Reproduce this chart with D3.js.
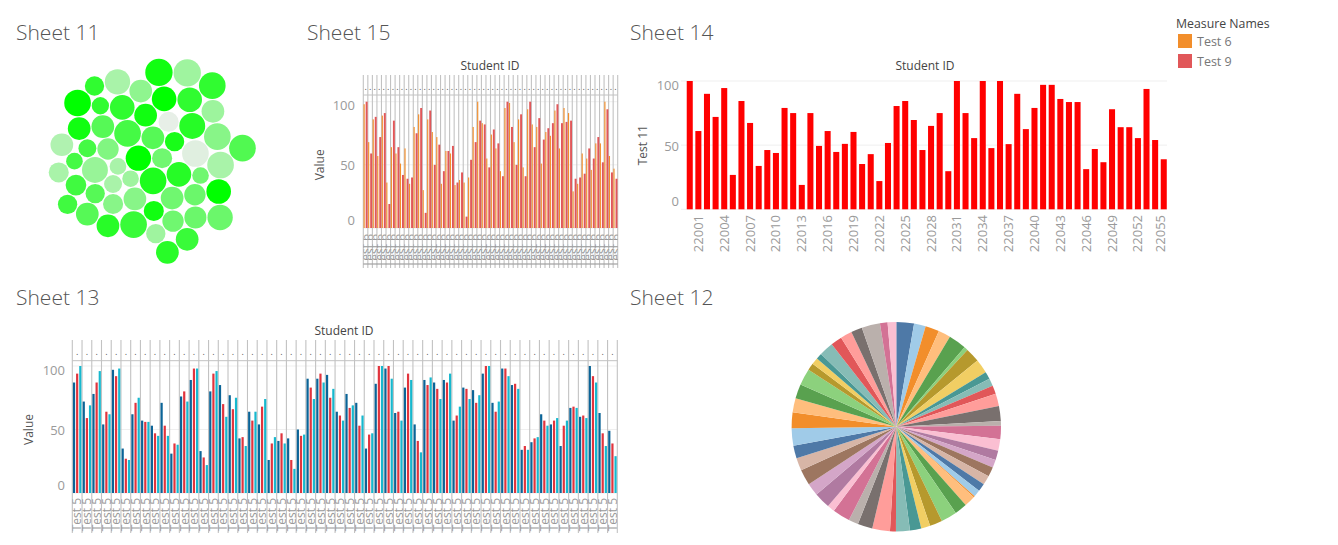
<!DOCTYPE html>
<html><head><meta charset="utf-8">
<script src="https://cdn.jsdelivr.net/npm/d3@7/dist/d3.min.js"></script>
<style>
html,body{margin:0;padding:0;background:#fff;overflow:hidden}
svg{display:block;font-family:"Open Sans",sans-serif}
</style></head><body><svg id="c" width="1338" height="545"></svg>
<script>
const studentIds = d3.range(22001, 22057);
const test11 = [100,61,90,72,94.5,26.8,84.4,67.3,33.8,46.2,43.9,79,75,19,75,49.4,61,44.7,51,60.3,35.3,43,22,51.7,80.5,84.4,69.6,46.2,65,75,29.7,100,75,55.5,100,47.7,100,50.8,90,62.5,79,97,97,86,83.6,83.6,31.3,47,36.7,78,64,64,55.5,93.8,54,39];
const test6 = [98,68,86,57,89,36,64,59,51,63,35,80,90,30,86,76,72,35,61,59,34,38,36,40,80,100,83,55,74,63,45,95,99,68,86,48,94,82,80,51,76,73,93,63,95,91,29,35,59,55,46,67,67,100,57,47];
const test9 = [100,59,88,72,91,19,85,64,42,39,40,75,95,12,93,50,66,45,61,65,36,44,9,54,68,85,82,48,78,67,41,100,80,50,90,41,100,64,87,70,79,83,98,83,84,85,39,40,43,63,55,72,52,94,44,39];
const blueTest = [87,72,78,54,97,35,62,57,53,71,31,76,89,33,80,85,77,43,64,54,26,41,43,50,90,90,93,64,78,71,35,86,98,63,83,54,89,87,89,57,83,81,94,71,98,85,34,40,62,54,37,67,60,100,63,49];
const redTest = [94,59,87,64,92,27,71,56,47,53,39,80,98,28,94,70,66,44,57,68,39,47,26,45,83,94,75,61,67,53,46,100,100,64,94,41,85,82,87,61,82,71,100,64,98,86,37,43,57,57,53,68,61,92,47,39];
const tealTest = [100,69,96,62,98,26,75,56,45,45,38,72,98,22,96,60,75,37,64,74,44,39,19,46,74,87,82,57,69,61,47,100,90,57,89,32,91,74,94,68,74,77,100,72,92,82,34,44,53,59,57,67,59,87,37,29];
const pieValues = [9.8,6.5,7.7,6.8,9.9,2.1,8,7.9,4.1,4.2,4.7,6.9,8.3,2.6,7.4,6.4,5.2,4.4,5.3,5.2,4.4,3.8,0.7,6.2,6.9,8.8,7,5,6.3,7.7,3.3,9.8,8.2,5.4,9.7,4.1,9,7,8.7,7,7.1,9.6,8.8,7.9,8,9.2,3.9,3.8,3.3,7.9,6.3,6.4,6.2,10.2,4.2,4.8];
const tableau20 = ["#4E79A7","#A0CBE8","#F28E2B","#FFBE7D","#59A14F","#8CD17D","#B6992D","#F1CE63","#499894","#86BCB6","#E15759","#FF9D9A","#79706E","#BAB0AC","#D37295","#FABFD2","#B07AA1","#D4A6C8","#9D7660","#D7B5A6"];
const bubbleSize = [86,54,95,69,95,37,50,81,37,61,95,69,69,54,69,43,81,54,54,90,90,69,95,81,37,61,40,81,43,95,50,69,61,69,95,69,65,81,37,50,95,57,69,86,69,95,100,95,50,100,86,54,69,50,69,69];
const bubbleShade = [100,53,88,64,71,33,90,84,29,46,6,43,93,3,53,29,100,93,43,84,36,64,43,80,53,55,80,80,71,76,64,93,53,40,29,83,55,100,71,33,66,73,64,29,34,80,93,100,80,33,55,29,26,73,76,83];
const legendNames = ["Test 6","Test 9"];
const yTicks = [0,50,100];

const INK="#555", MUTED="#9a9a9a", RULE="#c2c2c2", GRID="#efefef";
const svg=d3.select("#c");
const nudge={0:-8,50:0.5,100:3.5};

function title(t,x,y){svg.append("text").attr("x",x).attr("y",y).attr("font-size",21).attr("fill",INK).attr("font-weight",300).text(t);}
title("Sheet 11",16,40);title("Sheet 15",307,40);title("Sheet 14",630,40);title("Sheet 13",16,305);title("Sheet 12",630,305);

function yAxis(y,x0,x1,labelRight,name,nameX){
  const g=svg.append("g");
  g.selectAll("line.g").data(yTicks).join("line").attr("x1",x0).attr("x2",x1).attr("y1",d=>y(d)).attr("y2",d=>y(d)).attr("stroke",GRID);
  const a=svg.append("g").attr("transform",`translate(${labelRight},0)`).call(d3.axisLeft(y).tickValues(yTicks).tickSize(0).tickPadding(0));
  a.select(".domain").remove();
  a.selectAll("text").attr("font-size",13).attr("fill",MUTED).attr("font-family",'"Open Sans",sans-serif').attr("dy",d=>(nudge[d]+4.5)+"px");
  const r=y.range();
  svg.append("text").attr("transform",`translate(${nameX},${(r[0]+r[1])/2}) rotate(-90)`).attr("text-anchor","middle").attr("font-size",12).attr("fill",INK).text(name);
}
function topTitle(cx,cy){svg.append("text").attr("x",cx).attr("y",cy).attr("text-anchor","middle").attr("font-size",12).attr("fill","#444").text("Student ID");}

function trellis(id,x,top,headBottom,dotY,bottom,labelTop,labelText,series,y,inner,widths){
  x.domain().forEach(s=>{
    svg.append("clipPath").attr("id",`${id}${s}`).append("rect").attr("x",x(s)).attr("y",labelTop-2).attr("width",x.step()).attr("height",bottom-labelTop+4);
  });
  const lines=[...x.domain().map(s=>x(s)),x.range()[1]];
  svg.append("g").selectAll("line").data(lines).join("line").attr("x1",d=>d).attr("x2",d=>d).attr("y1",top).attr("y2",bottom).attr("stroke",RULE).attr("stroke-width",1.1);
  svg.append("line").attr("x1",x.range()[0]).attr("x2",x.range()[1]).attr("y1",headBottom).attr("y2",headBottom).attr("stroke",RULE);
  svg.append("g").selectAll("text").data(x.domain()).join("text").attr("x",d=>x(d)+x.step()/2).attr("y",dotY).attr("text-anchor","middle").attr("font-size",9).attr("fill","#555").text(".");
  svg.append("g").selectAll("g").data(x.domain()).join("g").attr("clip-path",d=>`url(#${id}${d})`)
    .append("text").attr("transform",d=>`translate(${x(d)+x.step()/2+4.3},${labelTop}) rotate(-90)`).attr("text-anchor","end").attr("font-size",12).attr("fill",MUTED).text(labelText);
  series.forEach((se,k)=>{
    svg.append("g").selectAll("rect").data(se.values).join("rect")
      .attr("x",(d,i)=>x(x.domain()[i])+inner(se.name))
      .attr("width",inner.bandwidth()*(widths?widths[k]:1))
      .attr("y",d=>y(d)).attr("height",d=>y(0)-y(d)).attr("fill",se.color);
  });
}
{
 const x=d3.scaleBand().domain(studentIds).range([363.3,617.7]);
 const y=d3.scaleLinear().domain([0,100]).range([228,101.7]);
 yAxis(y,363,618,355,"Value",324);
 topTitle(490,70);
 const inner=d3.scaleBand().domain(legendNames).range([0,x.step()]).paddingInner(.08).paddingOuter(.12);
 trellis("a",x,75,95,90,268,234,"Test 6",[{name:"Test 6",values:test6,color:"#F28E2B"},{name:"Test 9",values:test9,color:"#E15759"}],y,inner,[.6,1]);
}
{
 const x=d3.scaleBand().domain(studentIds).range([72.3,617.3]);
 const y=d3.scaleLinear().domain([0,100]).range([493,366]);
 yAxis(y,72,617,65,"Value",33);
 topTitle(344,335);
 const inner=d3.scaleBand().domain(["b","r","t"]).range([0,x.step()]).paddingInner(.3).paddingOuter(.2);
 trellis("b",x,340,360.7,355,533,498,"Test 5",[{name:"b",values:blueTest,color:"#0B6497"},{name:"r",values:redTest,color:"#E1343D"},{name:"t",values:tealTest,color:"#17B8CE"}],y,inner);
}
{
 const x=d3.scaleBand().domain(studentIds).range([686.3,1167.2]).paddingInner(.3).paddingOuter(.05);
 const y=d3.scaleLinear().domain([0,100]).range([209.3,81]);
 yAxis(y,681,1167,679,"Test 11",647);
 topTitle(925,70);
 svg.append("g").selectAll("rect").data(test11).join("rect").attr("x",(d,i)=>x(studentIds[i])).attr("width",x.bandwidth()).attr("y",d=>y(d)).attr("height",d=>y(0)-y(d)).attr("fill","#ff0000");
 const shown=studentIds.filter((d,i)=>i%3==0&&i<55);
 const ax=svg.append("g").attr("transform","translate(0,214)").call(d3.axisBottom(x).tickValues(shown).tickSize(0).tickPadding(0));
 ax.select(".domain").remove();
 ax.selectAll("text").attr("font-size",13).attr("fill",MUTED).attr("font-family",'"Open Sans",sans-serif')
   .attr("text-anchor","end").attr("dy",0)
   .attr("transform",d=>`translate(${(d==22055?0.6:1)*x.step()+4.5},1) rotate(-90)`);
}
{
 const pie=d3.pie().sort(null)(pieValues);
 const arc=d3.arc().innerRadius(0).outerRadius(104.7);
 svg.append("g").attr("transform","translate(896.3,426.7)").selectAll("path").data(pie).join("path").attr("d",arc).attr("fill",(d,i)=>tableau20[i%20]);
}
{
 const r=d3.scaleSqrt().domain([0,100]).range([0,13.67]);
 const shade=d3.scaleLinear().domain([0,100]).range(["#eeeeee","#00ff00"]);
 const nodes=bubbleSize.map((v,i)=>({r:r(v)+0.5,mark:r(v),tone:bubbleShade[i]}));
 d3.packSiblings(nodes);
 svg.append("g").attr("transform","translate(153,158)").selectAll("circle").data(nodes).join("circle")
   .attr("cx",d=>d.x).attr("cy",d=>d.y).attr("r",d=>d.mark).attr("fill",d=>shade(d.tone));
}
{
 svg.append("text").attr("x",1176).attr("y",28).attr("font-size",12.3).attr("fill","#444").text("Measure Names");
 const c=d3.scaleOrdinal().domain(legendNames).range(["#F28E2B","#E15759"]);
 const ly=d3.scalePoint().domain(legendNames).range([41,61]);
 const g=svg.append("g").selectAll("g").data(legendNames).join("g").attr("transform",d=>`translate(0,${ly(d)})`);
 g.append("rect").attr("x",1178).attr("y",-7).attr("width",14).attr("height",14).attr("fill",c);
 g.append("text").attr("x",1197).attr("y",4.5).attr("font-size",12.5).attr("fill","#777").text(d=>d);
}
</script></body></html>
